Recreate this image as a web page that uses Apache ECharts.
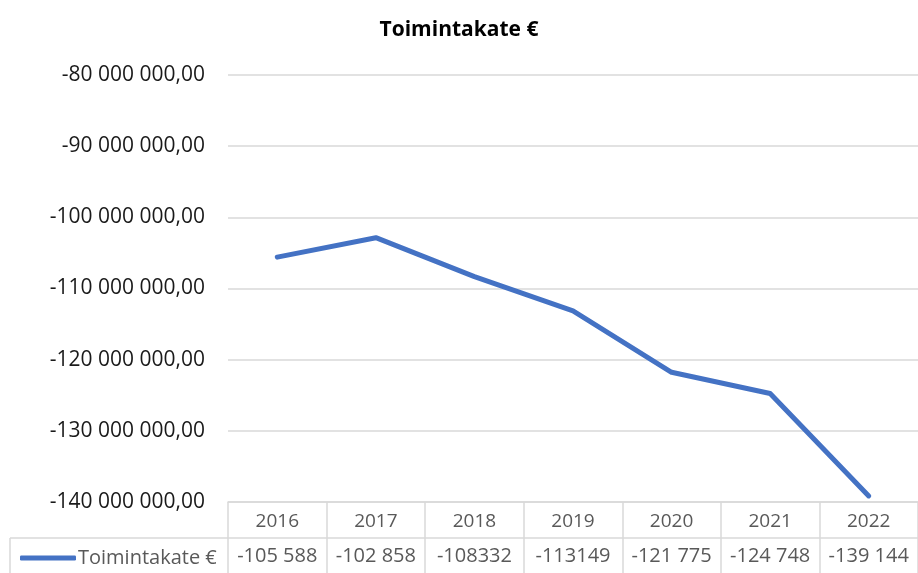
<!DOCTYPE html>
<html>
<head>
<meta charset="utf-8">
<script src="https://cdn.jsdelivr.net/npm/echarts@6/dist/echarts.min.js"></script>
<style>
html,body{margin:0;padding:0;background:#fff;}
#c{width:918px;height:573px;}
</style>
</head>
<body>
<div id="c"></div>
<script>
const title = 'Toimintakate €';
const seriesName = 'Toimintakate €';
const categories = ['2016','2017','2018','2019','2020','2021','2022'];
const values = [-105588000, -102858000, -108332000, -113149000, -121775000, -124748000, -139144000];
const tableLabels = ['-105 588','-102 858','-108332','-113149','-121 775','-124 748','-139 144'];
const yMin = -140000000, yMax = -80000000, yStep = 10000000;

const FONT = '"Open Sans", "Noto Sans", sans-serif';
const GRID = '#d9d9d9';

function fmtY(v){
  const neg = v < 0;
  let s = String(Math.abs(Math.round(v)));
  s = s.replace(/\B(?=(\d{3})+(?!\d))/g, ' ');
  return (neg ? '-' : '') + s + ',00';
}

const chart = echarts.init(document.getElementById('c'), null, {renderer:'canvas'});
chart.setOption({
  animation:false,
  backgroundColor:'#fff',
  title:{
    text:title, left:'center', top:15,
    textStyle:{fontFamily:FONT, fontWeight:'bold', fontSize:21, color:'#000'}
  },
  grid:{left:228, right:-7, top:75, bottom:71, containLabel:false},
  legend:{
    data:[{name:seriesName, icon:'roundRect'}], left:15, top:543, itemWidth:56, itemHeight:5,
    itemGap:0,
    itemStyle:{color:'#4472C4', borderWidth:0},
    textStyle:{fontFamily:FONT, fontSize:20, color:'#595959', padding:[0,0,0,-3]}
  },
  xAxis:[{
    type:'category', data:categories, position:'bottom', boundaryGap:true,
    axisLine:{show:true, lineStyle:{color:GRID, width:1.5}},
    axisTick:{show:true, length:72, lineStyle:{color:GRID, width:1.5}},
    axisLabel:{fontFamily:FONT, fontSize:19, color:'#595959', margin:10, interval:0, hideOverlap:false}
  },{
    type:'category', data:categories, position:'bottom', offset:36, boundaryGap:true,
    axisLine:{show:true, lineStyle:{color:GRID, width:1.5}},
    axisTick:{show:false},
    axisLabel:{fontFamily:FONT, fontSize:20, color:'#595959', margin:8, interval:0, hideOverlap:false,
      formatter:(v,i)=>tableLabels[i]}
  }],
  yAxis:{
    type:'value', min:yMin, max:yMax, interval:yStep,
    axisLine:{show:false}, axisTick:{show:false},
    splitLine:{lineStyle:{color:GRID, width:1.5}},
    axisLabel:{fontFamily:FONT, fontSize:21, color:'#1a1a1a', margin:23, formatter:fmtY}
  },
  graphic:[
    {type:'line', shape:{x1:10,y1:538,x2:228,y2:538}, style:{stroke:GRID, lineWidth:1.5}, silent:true},
    {type:'line', shape:{x1:10,y1:538,x2:10,y2:573}, style:{stroke:GRID, lineWidth:1.5}, silent:true}
  ],
  series:[{
    name:seriesName, type:'line', data:values, symbol:'none',
    lineStyle:{color:'#4472C4', width:5, cap:'round', join:'round'},
    itemStyle:{color:'#4472C4'}
  }]
});
</script>
</body>
</html>
